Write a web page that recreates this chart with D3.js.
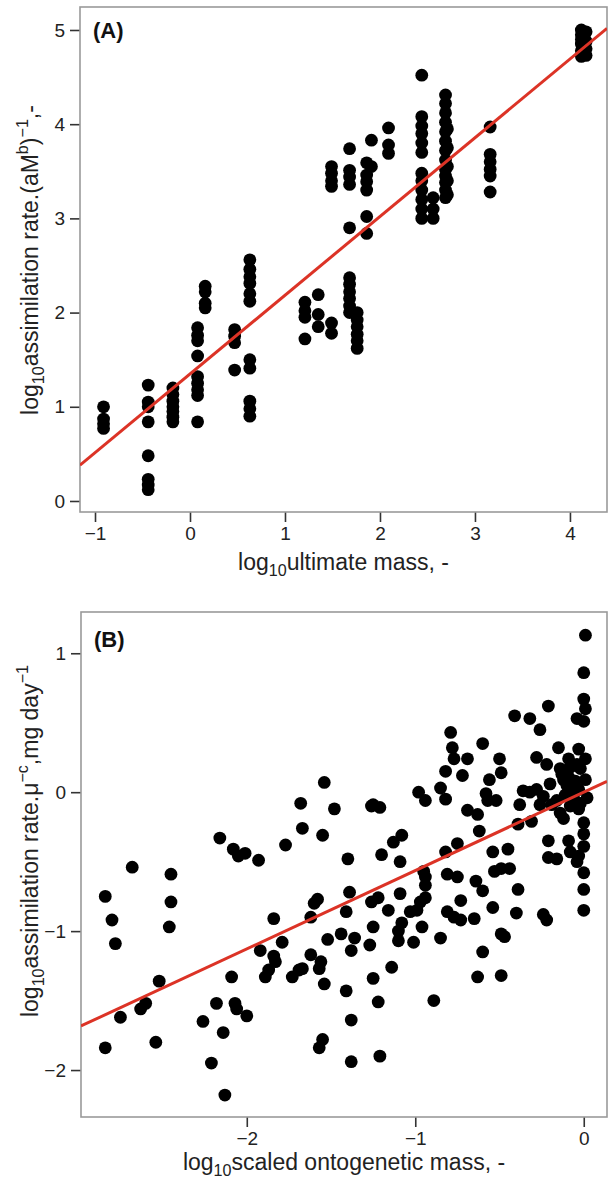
<!DOCTYPE html>
<html><head><meta charset="utf-8">
<script src="https://cdn.jsdelivr.net/npm/d3@7"></script>
<style>body{margin:0;background:#fff}svg{display:block}</style>
</head><body>
<svg id="chart" width="609" height="1180"></svg>
<script>
// ---------- DATA ----------
const panelATicksX = [-1, 0, 1, 2, 3, 4];
const panelATicksY = [0, 1, 2, 3, 4, 5];
const panelBTicksX = [-2, -1, 0];
const panelBTicksY = [-2, -1, 0, 1];

// regression fits [intercept, slope]
const panelAFit = [1.348, 0.836];
const panelBFit = [0.0, 0.564];

// Panel A: columns of points [log10 ultimate mass, [log10 rates...]]
const panelAColumns = [
  [-0.91, [1.00, 0.87, 0.82, 0.77]],
  [-0.44, [1.23, 1.05, 1.00, 0.84, 0.48, 0.23, 0.17, 0.12]],
  [-0.18, [1.20, 1.13, 1.06, 1.00, 0.95, 0.89, 0.84]],
  [0.08, [1.84, 1.76, 1.70, 1.54, 1.32, 1.25, 1.18, 1.12, 0.84]],
  [0.16, [2.28, 2.22, 2.10, 2.05]],
  [0.47, [1.82, 1.75, 1.68, 1.39]],
  [0.63, [2.56, 2.46, 2.38, 2.31, 2.20, 2.12, 1.50, 1.41, 1.06, 0.98, 0.90]],
  [1.21, [2.11, 2.02, 1.95, 1.72]],
  [1.35, [2.19, 1.98, 1.85]],
  [1.49, [1.89, 1.78, 3.55, 3.48, 3.40, 3.34]],
  [1.68, [2.37, 2.30, 2.22, 2.15, 2.07, 2.00, 3.74, 3.51, 3.44, 3.36, 2.90]],
  [1.76, [2.00, 1.92, 1.85, 1.77, 1.70, 1.62]],
  [1.86, [3.59, 3.46, 3.39, 3.30, 3.02, 2.84]],
  [1.91, [3.83, 3.55]],
  [2.09, [3.96, 3.78, 3.69]],
  [2.44, [4.52, 4.08, 3.98, 3.90, 3.80, 3.70, 3.48, 3.40, 3.30, 3.20, 3.10, 3.00]],
  [2.56, [3.22, 3.10, 3.00]],
  [2.69, [4.31, 4.22, 4.12, 4.02, 3.92, 3.82, 3.72, 3.62, 3.52, 3.45, 3.38, 3.30, 3.22]],
  [2.71, [3.95, 3.75, 3.55, 3.40, 3.25]],
  [3.16, [3.97, 3.68, 3.60, 3.52, 3.45, 3.28]],
  [4.12, [5.00, 4.95, 4.90, 4.85, 4.78, 4.72]],
  [4.17, [4.98, 4.88, 4.80, 4.73]]
];

// Panel B: [log10 scaled ontogenetic mass, log10 assimilation rate]
const panelBPoints = [
  [-2.84,-0.75],[-2.80,-0.92],[-2.78,-1.09],[-2.84,-1.84],[-2.75,-1.62],[-2.68,-0.54],
  [-2.63,-1.56],[-2.60,-1.52],[-2.54,-1.80],[-2.52,-1.36],[-2.45,-0.59],[-2.45,-0.79],
  [-2.46,-0.97],[-2.26,-1.65],[-2.21,-1.95],[-2.18,-1.52],[-2.14,-1.73],[-2.13,-2.18],
  [-2.09,-1.33],[-2.07,-1.52],[-2.06,-1.56],[-2.00,-1.61],[-2.16,-0.33],[-2.08,-0.41],
  [-2.05,-0.46],[-2.01,-0.44],[-1.93,-0.49],[-1.92,-1.14],[-1.84,-0.91],[-1.84,-1.18],
  [-1.83,-1.22],[-1.87,-1.28],[-1.89,-1.33],[-1.79,-1.08],[-1.77,-0.38],[-1.73,-1.33],
  [-1.69,-1.28],[-1.67,-1.27],[-1.68,-0.08],[-1.67,-0.26],[-1.55,-0.31],[-1.48,-0.12],
  [-1.62,-0.90],[-1.60,-0.80],[-1.58,-0.77],[-1.62,-1.17],[-1.56,-1.22],[-1.57,-1.27],
  [-1.52,-1.06],[-1.54,-1.38],[-1.55,-1.78],[-1.57,-1.84],[-1.44,-1.02],[-1.40,-0.48],
  [-1.39,-0.72],[-1.41,-0.86],[-1.38,-1.14],[-1.41,-1.43],[-1.38,-1.64],[-1.38,-1.94],
  [-1.54,0.07],
  [-1.25,-0.09],[-1.21,-0.11],[-1.26,-0.10],[-1.20,-0.45],[-1.13,-0.36],[-1.08,-0.31],
  [-1.09,-0.50],[-0.98,0.00],[-0.94,-0.06],[-0.85,0.03],[-0.82,-0.05],[-0.82,0.15],
  [-0.79,0.43],[-0.78,0.32],[-0.77,0.24],[-0.72,0.12],[-0.69,0.24],[-0.60,0.35],
  [-0.56,0.09],[-0.58,-0.01],[-0.57,-0.06],[-0.52,-0.06],[-0.50,0.24],[-0.49,0.14],
  [-0.69,-0.13],[-0.63,-0.16],[-0.62,-0.28],[-0.82,-0.43],[-0.75,-0.37],[-0.81,-0.59],
  [-0.75,-0.61],[-0.64,-0.64],[-0.95,-0.57],[-0.54,-0.43],[-0.45,-0.41],[-0.53,-0.57],
  [-0.49,-0.55],[-0.44,-0.55],[-0.41,0.55],[-0.32,0.53],[-0.26,0.45],[-0.21,0.62],
  [-0.38,-0.09],[-0.36,0.01],[-0.39,-0.23],[-0.31,-0.21],[-0.28,0.25],[-0.22,0.20],
  [-0.15,0.32],[-0.32,0.00],[-0.28,0.02],[-0.24,-0.03],[-0.26,-0.09],[-0.20,0.06],
  [-0.19,-0.09],[-0.14,0.17],[-0.12,0.09],[-0.09,0.24],[-0.14,-0.15],[-0.12,-0.19],
  [-0.08,-0.10],[-0.16,-0.06],[-0.21,-0.35],[-0.21,-0.47],[-0.16,-0.48],[-0.09,-0.35],
  [-0.08,-0.43],[0.01,1.13],[0.00,0.86],[0.00,0.67],[0.01,0.60],[-0.04,0.53],
  [0.00,0.51],[-0.03,0.31],[0.01,0.24],[-0.02,0.17],[0.01,0.09],[-0.03,0.02],
  [0.02,-0.04],[-0.03,-0.12],[0.00,-0.22],[0.00,-0.30],[0.00,-0.39],[-0.03,-0.46],
  [0.00,-0.58],[-0.09,0.11],[-0.07,0.02],[-0.05,0.08],[-0.10,0.05],[-0.06,-0.04],
  [-0.11,-0.02],[-0.04,0.20],[-0.13,0.13],[-0.02,-0.08],[-0.08,0.18],
  [-1.36,-1.05],[-1.27,-1.10],[-1.25,-0.97],[-1.26,-0.79],[-1.22,-0.76],[-1.16,-0.85],
  [-1.09,-0.73],[-1.14,-1.26],[-1.25,-1.34],[-1.22,-1.51],[-1.21,-1.90],[-1.10,-1.07],
  [-1.10,-1.00],[-1.08,-0.94],[-1.03,-0.86],[-0.99,-0.85],[-0.97,-0.79],[-0.94,-0.76],
  [-0.94,-0.67],[-0.94,-0.61],[-1.01,-1.08],[-0.96,-0.97],[-0.85,-1.05],[-0.89,-1.50],
  [-0.73,-0.78],[-0.81,-0.86],[-0.77,-0.90],[-0.73,-0.92],[-0.65,-0.91],[-0.60,-0.71],
  [-0.54,-0.83],[-0.39,-0.70],[-0.40,-0.87],[-0.49,-1.02],[-0.47,-1.04],[-0.60,-1.15],
  [-0.63,-1.33],[-0.49,-1.32],[-0.24,-0.88],[-0.22,-0.92],[0.00,-0.70],[0.00,-0.85],
  [-0.04,-0.50]
];

// ---------- DRAWING ----------
const svg = d3.select('#chart');
svg.append('rect').attr('width', 609).attr('height', 1180).attr('fill', '#fff');
const FONT = '"Liberation Sans", Arial, Helvetica, sans-serif';

function richText(sel, segs, size) {
  let shift = 0;
  segs.forEach(([txt, kind]) => {
    const ts = sel.append('tspan').text(txt);
    const target = kind === 'sub' ? 0.24 * size : kind === 'sup' ? -0.42 * size : 0;
    ts.attr('dy', target - shift);
    shift = target;
    if (kind) ts.attr('font-size', size * 0.7);
  });
}

function panel(cfg) {
  const g = svg.append('g');
  const x = d3.scaleLinear().domain(cfg.xDomain).range([cfg.left, cfg.right]);
  const y = d3.scaleLinear().domain(cfg.yDomain).range([cfg.bottom, cfg.top]);

  const fmt = d => d < 0 ? '\u2212' + Math.abs(d) : String(d);
  const xAxis = d3.axisBottom(x).tickValues(cfg.xTicks).tickSize(10).tickPadding(5).tickFormat(fmt);
  const yAxis = d3.axisLeft(y).tickValues(cfg.yTicks).tickSize(10).tickPadding(5).tickFormat(fmt);
  const gx = g.append('g').attr('transform', `translate(0,${cfg.bottom})`).call(xAxis);
  const gy = g.append('g').attr('transform', `translate(${cfg.left},0)`).call(yAxis);
  [gx, gy].forEach(a => {
    a.select('.domain').remove();
    a.selectAll('.tick line').attr('stroke', '#333').attr('stroke-width', 1.6);
    a.selectAll('.tick text').attr('fill', '#222').attr('font-family', FONT).attr('font-size', 19);
  });

  g.append('rect').attr('x', cfg.left).attr('y', cfg.top)
    .attr('width', cfg.right - cfg.left).attr('height', cfg.bottom - cfg.top)
    .attr('fill', 'none').attr('stroke', '#9a9a9a').attr('stroke-width', 1.6);

  const cid = 'clip' + cfg.id;
  svg.append('clipPath').attr('id', cid).append('rect')
    .attr('x', cfg.left).attr('y', cfg.top)
    .attr('width', cfg.right - cfg.left).attr('height', cfg.bottom - cfg.top);

  g.append('g').selectAll('circle').data(cfg.points).join('circle')
    .attr('cx', d => x(d[0])).attr('cy', d => y(d[1])).attr('r', 6.4).attr('fill', '#000');

  const [b0, b1] = cfg.fit;
  const line = d3.line().x(d => x(d)).y(d => y(b0 + b1 * d));
  g.append('path').datum(cfg.xDomain).attr('d', line)
    .attr('clip-path', `url(#${cid})`)
    .attr('fill', 'none').attr('stroke', '#dc3326').attr('stroke-width', 3);

  g.append('text').attr('x', cfg.left + 13).attr('y', cfg.labelY)
    .attr('font-family', FONT).attr('font-weight', 'bold').attr('font-size', 22)
    .attr('fill', '#111').text(cfg.label);

  const xt = g.append('text').attr('x', (cfg.left + cfg.right) / 2).attr('y', cfg.xTitleY)
    .attr('text-anchor', 'middle').attr('font-family', FONT).attr('font-size', 23).attr('fill', '#222');
  richText(xt, cfg.xTitle, 23);

  const yt = g.append('text').attr('transform', `translate(38,${cfg.yTitleCY}) rotate(-90)`)
    .attr('text-anchor', 'middle').attr('font-family', FONT).attr('font-size', 23).attr('fill', '#222');
  richText(yt, cfg.yTitle, 23);
}

const panelAPoints = panelAColumns.flatMap(([m, ys]) => ys.map(v => [m, v]));

panel({
  id: 'A', left: 80, right: 607, top: 7, bottom: 512,
  xDomain: [-1.158, 4.39], yDomain: [-0.117, 5.244],
  xTicks: panelATicksX, yTicks: panelATicksY,
  points: panelAPoints, fit: panelAFit,
  label: '(A)', labelY: 38, xTitleY: 570, yTitleCY: 260,
  xTitle: [['log', ''], ['10', 'sub'], ['ultimate mass, -', '']],
  yTitle: [['log', ''], ['10', 'sub'], ['assimilation rate.(aM', ''], ['b', 'sup'], [')', ''], ['\u22121', 'sup'], [',-', '']]
});

panel({
  id: 'B', left: 81, right: 607, top: 612, bottom: 1117,
  xDomain: [-2.984, 0.138], yDomain: [-2.338, 1.297],
  xTicks: panelBTicksX, yTicks: panelBTicksY,
  points: panelBPoints, fit: panelBFit,
  label: '(B)', labelY: 647, xTitleY: 1170, yTitleCY: 841,
  xTitle: [['log', ''], ['10', 'sub'], ['scaled ontogenetic mass, -', '']],
  yTitle: [['log', ''], ['10', 'sub'], ['assimilation rate.\u03bc', ''], ['\u2212c', 'sup'], [',mg day', ''], ['\u22121', 'sup']]
});
</script>
</body></html>
